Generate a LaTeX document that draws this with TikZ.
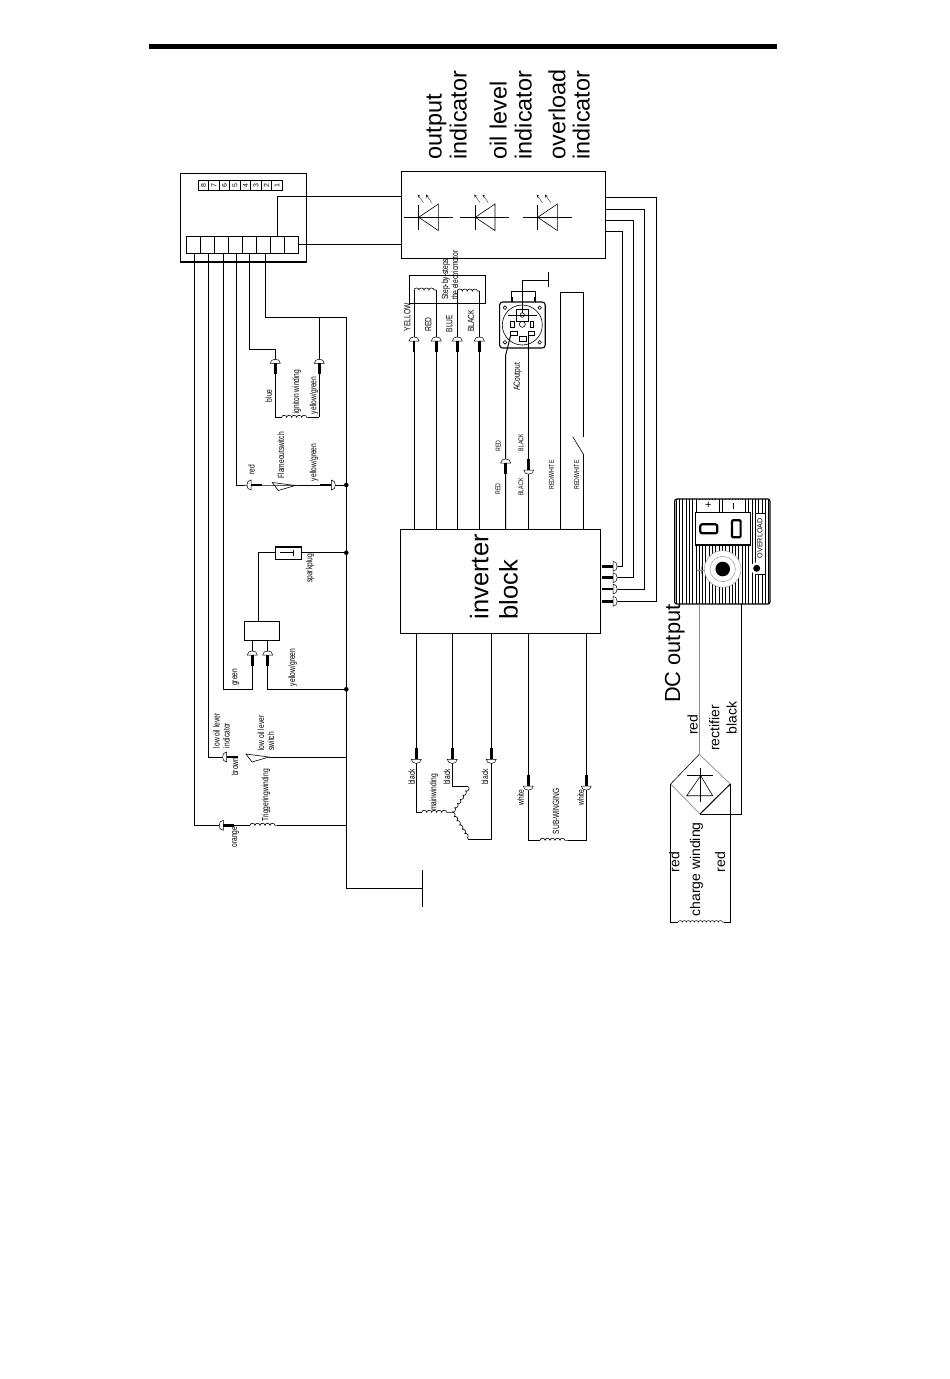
\documentclass[tikz,border=0pt]{standalone}
\usepackage{fontspec}
\usepackage{tikz}
\usetikzlibrary{decorations.pathmorphing}
\setmainfont{Liberation Sans}
\newfontfamily\narrowsans[FakeStretch=0.74]{Liberation Sans}
\newcommand{\wireFont}[0]{\narrowsans\fontsize{9}{10}\selectfont}
\newcommand{\tinyFont}[0]{\narrowsans\fontsize{7}{8}\selectfont}
\newcommand{\hugeFont}[0]{\fontsize{23.4}{26}\selectfont}
\newcommand{\midFont}[0]{\fontsize{14}{16}\selectfont}
\definecolor{wiregrey}{HTML}{8C8C8C}

\begin{document}
\begin{tikzpicture}[x=1pt, y=-1pt]
  \tikzset{
    wire/.style={line width=1pt},
    thinwire/.style={line width=0.6pt},
    greywire/.style={line width=0.9pt, draw=wiregrey},
    coilwire/.style={line width=0.6pt, decorate, decoration={bumps, segment length=10pt, amplitude=2pt}},
    box/.style={draw, line width=1.1pt, inner sep=0pt, outer sep=0pt},
    cell/.style={draw, line width=0.9pt, inner sep=0pt, outer sep=0pt},
    wirelabel/.style={rotate=90, inner sep=0pt, font=\wireFont},
    tinylabel/.style={rotate=90, inner sep=0pt, font=\tinyFont},
    hugelabel/.style={rotate=90, inner sep=0pt, anchor=base west, font=\hugeFont},
    midlabel/.style={rotate=90, inner sep=0pt, anchor=base west, font=\midFont},
    dot/.style={circle, fill, inner sep=0pt, minimum size=4.6pt},
    plug/.pic={
      \draw[line width=2.6pt] (0,0) -- (0,11);
      \draw[line width=0.5pt, fill=white] (-5,0) .. controls (-5,-5.5) and (5,-5.5) .. (5,0) -- cycle;
    },
    switchtri/.pic={
      \draw[line width=0.6pt] (0,-3) -- (6,5) -- (23,0) -- cycle;
    },
    led/.pic={
      \draw[line width=0.7pt] (-15,0) -- (34,0);
      \draw[line width=0.7pt] (0,-12.3) -- (0,12.7);
      \draw[line width=0.6pt] (0,0) -- (19.7,-13.3) -- (19.7,13.3) -- cycle;
      \draw[line width=0.3pt, ->, >=stealth] (4.7,-14.7) -- (-1,-22.7);
      \draw[line width=0.3pt, ->, >=stealth] (13,-14.7) -- (7.3,-22.7);
    }
  }
  \useasboundingbox (0,0) rectangle (950,1379);

  \coordinate (R-a) at (149.3,46.7);
  \coordinate (R-b) at (777,46.7);
  \draw[line width=4.5pt] (R-a) -- (R-b);

  \node[box, anchor=north west, minimum width=126.4pt, minimum height=88.7pt] (ctrl-box) at (180.3,173.3) {};
  \foreach \n [evaluate=\n as \px using 198.3+(8-\n)*10.5+5.25] in {8,7,...,1} {
    \node[cell, rotate=90, minimum width=10.7pt, minimum height=10.5pt, font=\fontsize{7}{8}\selectfont] (N-\n) at (\px,185.3) {\n};
  }
  \foreach \n [evaluate=\n as \px using 186.7+(8-\n)*14+7] in {8,7,...,1} {
    \node[cell, minimum width=14pt, minimum height=17pt] (T-\n) at (\px,244.8) {};
  }

  \node[box, anchor=north west, minimum width=204.4pt, minimum height=86.6pt] (led-box) at (401.3,171.7) {};
  \pic at (418.7,217.3) {led};
  \pic at (475.3,217.3) {led};
  \pic at (537.7,217.3) {led};

  \node[box, anchor=north west, minimum width=200.4pt, minimum height=104pt] (inverter) at (400.3,529.3) {};
  \node[box, anchor=north west, minimum width=76pt, minimum height=27.6pt] (motor-box) at (409.3,275.7) {};

  \foreach \dname/\dy in {1/485,2/552.7,3/689.3} {
    \node[dot] (G-\dname) at (346.3,\dy) {};
  }
  \coordinate (G-top) at (346.3,317.3);
  \coordinate (G-bot) at (346.3,888.3);
  \coordinate (E-a) at (422.5,870);
  \coordinate (E-b) at (422.5,906.7);
  \draw[wire] (G-top) -- (G-bot) -- (G-bot -| E-a);
  \draw[wire] (E-a) -- (E-b);

  % ignition side
  \coordinate (C-ign-a) at (281.7,417.3);
  \coordinate (C-ign-b) at (308,417.3);
  \coordinate (W-ign-a) at (275.3,417.3);
  \coordinate (W-ign-b) at (319.3,417.3);
  \coordinate (P-ign-a) at (275.3,363.3);
  \coordinate (P-ign-b) at (319.3,363.3);
  \coordinate (A-ign) at (275.3,349.3);
  \draw[wire] ([xshift=2pt]T-3.south) |- (G-top);
  \draw[wire] (W-ign-b) -- (W-ign-b |- G-top);
  \draw[wire] (T-4.south) |- (A-ign) -- (W-ign-a) -- (C-ign-a);
  \draw[wire] (C-ign-b) -- (W-ign-b);
  \draw[coilwire] (C-ign-a) -- (C-ign-b);

  \coordinate (P-flame-a) at (251,485);
  \coordinate (P-flame-b) at (331.3,485);
  \draw[wire] ([xshift=1pt]T-5.south) |- (P-flame-a) -- (G-1);

  \coordinate (plug-in) at (258.3,621.3);
  \node[box, anchor=north west, minimum width=26.4pt, minimum height=12.3pt] (spark-box) at (275.3,547) {};
  \node[box, anchor=north west, minimum width=35.4pt, minimum height=19pt, fill=white] (coil-box) at (244.3,621.3) {};
  \coordinate (S-a) at (280,552.7);
  \coordinate (S-b) at (293,552.7);
  \draw[line width=0.6pt] (S-a) -- (S-b);
  \draw[line width=0.5pt] (S-b) ++(0,-3) -- ++(0,6);
  \draw[wire] (spark-box.east |- G-2) -- (G-2);
  \draw[wire] (spark-box.west |- G-2) -| (plug-in);

  \coordinate (P-mag-a) at (252.3,655);
  \coordinate (P-mag-b) at (267.7,655);
  \draw[wire] (P-mag-a |- coil-box.south) -- (P-mag-a |- G-3) -| ([xshift=1.5pt]T-6.south);
  \draw[wire] (P-mag-b |- coil-box.south) |- (G-3);

  \coordinate (P-oil) at (226.7,757);
  \coordinate (Q-oil) at (269,757);
  \draw[wire] ([xshift=1pt]T-7.south) |- (P-oil);
  \draw[wire] (Q-oil) -- (Q-oil -| G-top);

  \coordinate (P-trig) at (223.3,825.3);
  \coordinate (C-trig-a) at (250,825.3);
  \coordinate (C-trig-b) at (276.7,825.3);
  \draw[wire] ([xshift=1pt]T-8.south) |- (P-trig) -- (C-trig-a);
  \draw[coilwire] (C-trig-a) -- (C-trig-b);
  \draw[wire] (C-trig-b) -- (C-trig-b -| G-top);

  \coordinate (L-a) at (605.7,197);
  \coordinate (L-b) at (605.7,209);
  \coordinate (L-c) at (605.7,220.3);
  \coordinate (L-d) at (605.7,231.3);
  \coordinate (K-a) at (656.7,601.3);
  \coordinate (K-b) at (644.7,589);
  \coordinate (K-c) at (633.7,577.7);
  \coordinate (K-d) at (622.3,566.3);
  \coordinate (P-inv-a) at (613,601.3);
  \coordinate (P-inv-b) at (613,589);
  \coordinate (P-inv-c) at (613,577.7);
  \coordinate (P-inv-d) at (613,566.3);
  \foreach \w in {a,b,c,d} {
    \draw[wire] (L-\w) -| (K-\w) -- (P-inv-\w);
  }
  \coordinate (L-in-a) at (401.3,196);
  \coordinate (L-in-b) at (401.3,245.3);
  \draw[wire] (T-2.north) |- (L-in-a);
  \draw[wire] (T-1.east) -- (T-1.east -| L-in-b);

  % stepping motor
  \coordinate (M-a) at (414,290);
  \coordinate (M-b) at (436.3,290);
  \coordinate (M-c) at (457.3,291);
  \coordinate (M-d) at (479.3,291);
  \foreach \w in {a,b,c,d} {
    \draw[wire] (inverter.north -| M-\w) -- (M-\w);
  }
  \draw[coilwire] (M-a) -- (M-b);
  \draw[coilwire] (M-c) -- (M-d);
  \coordinate (P-yellow) at (414,341);
  \coordinate (P-red) at (436.3,341);
  \coordinate (P-blue) at (457.3,341);
  \coordinate (P-black) at (479.3,341);

  % ac outlet
  \node[box, anchor=north west, rounded corners=3pt, minimum width=45.6pt, minimum height=46pt] (outlet) at (499.6,302) {};
  \node[circle, draw, line width=0.6pt, inner sep=0pt, minimum size=40pt] (outlet-ring) at (522.3,325) {};
  \node[circle, draw, line width=0.6pt, inner sep=0pt, minimum size=3.6pt] (hole-a) at (505,307.7) {};
  \node[circle, draw, line width=0.6pt, inner sep=0pt, minimum size=3.6pt] (hole-b) at (539.7,307.7) {};
  \node[circle, draw, line width=0.6pt, inner sep=0pt, minimum size=3.6pt] (hole-c) at (505,342.3) {};
  \node[circle, draw, line width=0.6pt, inner sep=0pt, minimum size=3.6pt] (hole-d) at (539.7,342.3) {};
  \node[circle, draw, line width=0.6pt, inner sep=0pt, minimum size=6pt] (hole-e) at (522.3,324.3) {};
  \node[circle, draw, line width=0.6pt, inner sep=0pt, minimum size=4.4pt] (hole-f) at (522.3,315) {};
  \node[draw, line width=0.6pt, inner sep=0pt, minimum width=3.4pt, minimum height=6pt] (slot-a) at (512.3,324) {};
  \node[draw, line width=0.6pt, inner sep=0pt, minimum width=3.4pt, minimum height=6pt] (slot-b) at (532,324) {};
  \node[draw, line width=0.9pt, inner sep=0pt, minimum width=6.6pt, minimum height=4.4pt] (blade-a) at (514.2,333.4) {};
  \node[draw, line width=0.9pt, inner sep=0pt, minimum width=6.6pt, minimum height=4.4pt] (blade-b) at (531.6,333.4) {};
  \node[draw, line width=0.9pt, inner sep=0pt, minimum width=7.6pt, minimum height=4.2pt] (blade-c) at (522.8,339) {};
  \draw[line width=0.6pt] (hole-f.north) ++(-6,-3.4) rectangle ++(12,12.4);
  \coordinate (O-a) at (508.3,315);
  \coordinate (O-b) at (536.7,315);
  \draw[line width=1pt] (O-a) -- (O-b);
  \coordinate (B-a) at (511.7,302);
  \coordinate (B-b) at (511.7,291.7);
  \coordinate (B-c) at (535,291.7);
  \coordinate (B-d) at (535,302);
  \draw[wire] (B-a) -- (B-b) -- (B-c) -- (B-d);
  \draw[line width=1.8pt] (B-a) -- ++(0,-5);
  \draw[line width=1.8pt] (B-d) -- ++(0,-5);
  \coordinate (E-c) at (548.3,271.7);
  \coordinate (E-d) at (548.3,286.7);
  \coordinate (E-e) at (548.3,280);
  \draw[wire] (E-c) -- (E-d);
  \draw[thinwire] (E-e) -| (hole-f.north);
  \coordinate (Z-a) at (505.7,355);
  \draw[wire] (inverter.north -| Z-a) -- (Z-a) -- (blade-a.south west);
  \coordinate (Z-b) at (528.7,335.6);
  \draw[wire] (inverter.north -| Z-b) -- (Z-b);
  \coordinate (P-ac-a) at (505.7,463);
  \coordinate (P-ac-b) at (528.7,470);

  \coordinate (Y-a) at (560.7,292.3);
  \coordinate (Y-b) at (583.3,292.3);
  \coordinate (Y-c) at (583.3,436.7);
  \coordinate (Y-d) at (572.7,436.7);
  \coordinate (Y-e) at (583.3,454);
  \draw[wire] (inverter.north -| Y-a) -- (Y-a) -- (Y-b) -- (Y-c);
  \draw[thinwire] (Y-d) -- (Y-e);
  \draw[wire] (Y-e) -- (inverter.north -| Y-e);

  % windings below the inverter
  \coordinate (W-star) at (451.7,812.3);
  \coordinate (W-a) at (416.3,812.3);
  \coordinate (W-b) at (421.7,812.3);
  \coordinate (W-c) at (452.3,786.7);
  \coordinate (W-d) at (468.3,786.7);
  \coordinate (W-e) at (468.3,839.3);
  \coordinate (W-f) at (491.3,839.3);
  \draw[wire] (inverter.south -| W-a) -- (W-a) -- (W-b);
  \draw[wire] (inverter.south -| W-c) -- (W-c) -- (W-d);
  \draw[wire] (inverter.south -| W-f) -- (W-f) -- (W-e);
  \draw[coilwire] (W-b) -- (W-star);
  \draw[coilwire] (W-d) -- (W-star);
  \draw[coilwire] (W-star) -- (W-e);
  \coordinate (P-main-a) at (416.3,759.3);
  \coordinate (P-main-b) at (452.3,759.3);
  \coordinate (P-main-c) at (491.3,759.3);

  \coordinate (U-a) at (528.3,840.3);
  \coordinate (U-b) at (540,840.3);
  \coordinate (U-c) at (568.3,840.3);
  \coordinate (U-d) at (586.3,840.3);
  \draw[wire] (inverter.south -| U-a) -- (U-a) -- (U-b);
  \draw[wire] (inverter.south -| U-d) -- (U-d) -- (U-c);
  \draw[coilwire] (U-b) -- (U-c);
  \coordinate (P-sub-a) at (528.3,786);
  \coordinate (P-sub-b) at (586.3,786);

  \foreach \pname/\rot in {ign-a/0,ign-b/0,flame-a/90,flame-b/-90,mag-a/0,mag-b/0,oil/90,trig/90,inv-a/-90,inv-b/-90,inv-c/-90,inv-d/-90,yellow/0,red/0,blue/0,black/0,ac-a/0,ac-b/180,main-a/180,main-b/180,main-c/180,sub-a/180,sub-b/180} {
    \pic[rotate=\rot] at (P-\pname) {plug};
  }
  \pic at (272.3,485.5) {switchtri};
  \pic at (246,757) {switchtri};

  % dc panel
  \foreach \hx in {676,679.3,...,769} {
    \draw[line width=0.6pt] (\hx,499) -- (\hx,604);
  }
  \node[box, anchor=north west, rounded corners=2pt, minimum width=95.3pt, minimum height=105pt] (panel) at (674.7,499) {};
  \node[fill=white, inner sep=0pt, minimum width=19pt, minimum height=12pt] (plus-box) at (706.5,506) {};
  \node[fill=white, inner sep=0pt, minimum width=21pt, minimum height=12pt] (minus-box) at (733,506) {};
  \node[inner sep=0pt, font=\fontsize{11}{12}\selectfont] (plus-sign) at (708.3,505.5) {+};
  \draw[line width=0.4pt] (minus-box.center) ++(0,-3) -- ++(0,6);
  \node[box, anchor=north west, fill=white, minimum width=55pt, minimum height=32.3pt] (window) at (695.7,512.7) {};
  \node[draw, line width=2.2pt, rounded corners=2pt, inner sep=0pt, minimum width=17pt, minimum height=9pt] (sw-off) at (708.8,528.8) {};
  \node[draw, line width=2.2pt, rounded corners=1pt, inner sep=0pt, minimum width=8.6pt, minimum height=17pt] (sw-on) at (736.3,528.8) {};
  \node[draw, line width=0.6pt, fill=white, anchor=north west, inner sep=0pt, minimum width=10pt, minimum height=61.3pt] (overload-box) at (755,512.7) {};
  \node[inner sep=0pt, rotate=90, font=\fontsize{7.2}{8}\selectfont] (overload) at (760,538.3) {OVERLOAD};
  \node[circle, fill=white, inner sep=0pt, minimum size=12pt] (lamp-ring) at (756.7,568.3) {};
  \node[circle, fill, inner sep=0pt, minimum size=7pt] (lamp) at (756.7,568.3) {};
  \draw[line width=0.5pt, draw=wiregrey] (696.7,570) -- (705,570);
  \draw[line width=0.5pt, draw=wiregrey] (701.7,566.5) -- (701.7,573.5);
  \node[circle, fill=white, draw=wiregrey, line width=0.4pt, inner sep=0pt, minimum size=36.6pt] (knob) at (722.7,569) {};
  \node[circle, draw=wiregrey, line width=0.4pt, inner sep=0pt, minimum size=25.4pt] (knob-ring) at (722.7,569) {};
  \node[circle, fill, inner sep=0pt, minimum size=14.6pt] (knob-core) at (722.7,569) {};

  % rectifier
  \coordinate (D-top) at (699.3,754.3);
  \coordinate (D-left) at (670.7,784);
  \coordinate (D-right) at (730.3,784);
  \coordinate (D-bot) at (700,814);
  \coordinate (D-black) at (741.3,814);
  \draw[greywire] (D-top |- panel.south) -- (D-top);
  \draw[wire] (D-black |- panel.south) -- (D-black) -- (D-bot);
  \draw[thinwire] (D-top) -- (D-left);
  \draw[greywire, line width=0.7pt] (D-top) -- (D-right);
  \draw[greywire, line width=0.7pt] (D-left) -- (D-bot);
  \draw[wire] (D-right) -- (D-bot);
  \coordinate (A-a) at (700.7,768.3);
  \coordinate (A-b) at (700.7,801.7);
  \coordinate (A-c) at (686.7,775.7);
  \coordinate (A-d) at (712.7,775.7);
  \coordinate (A-e) at (686.7,795.7);
  \coordinate (A-f) at (712.7,795.7);
  \coordinate (A-g) at (700.7,775.7);
  \draw[thinwire] (A-a) -- (A-b);
  \draw[thinwire] (A-c) -- (A-d);
  \draw[thinwire] (A-e) -- (A-f) -- (A-g) -- cycle;
  \coordinate (H-a) at (670.7,922);
  \coordinate (H-b) at (678.3,922);
  \coordinate (H-c) at (724,922);
  \coordinate (H-d) at (730.3,922);
  \draw[wire] (D-left) -- (H-a) -- (H-b);
  \draw[wire] (D-right) -- (H-d) -- (H-c);
  \draw[coilwire, line width=0.5pt, decoration={segment length=8pt, amplitude=1.4pt}] (H-b) -- (H-c);

  % big labels
  \node[hugelabel] (lab-out-a) at (441.7,159.5) {output};
  \node[hugelabel] (lab-out-b) at (466.7,159.5) {indicator};
  \node[hugelabel] (lab-oil-a) at (506.7,159.5) {oil level};
  \node[hugelabel] (lab-oil-b) at (531.7,159.5) {indicator};
  \node[hugelabel] (lab-over-a) at (565.3,159.5) {overload};
  \node[hugelabel] (lab-over-b) at (589.5,159.5) {indicator};
  \node[hugelabel, font=\fontsize{25.5}{28}\selectfont] (lab-inv-a) at (488.3,619.5) {inverter};
  \node[hugelabel, font=\fontsize{25.5}{28}\selectfont] (lab-inv-b) at (517.7,619.5) {block};
  \node[hugelabel, font=\fontsize{21.8}{24}\selectfont] (lab-dc) at (680,703) {DC output};
  \node[midlabel] (lab-r-a) at (697.7,735) {red};
  \node[midlabel] (lab-r-b) at (719.3,751) {rectifier};
  \node[midlabel] (lab-r-c) at (736.7,734.5) {black};
  \node[midlabel] (lab-r-d) at (679.3,872.3) {red};
  \node[midlabel] (lab-r-e) at (700,916.7) {charge winding};
  \node[midlabel] (lab-r-f) at (725,872.3) {red};

  % wire labels
  \node[wirelabel] (lab-blue) at (268.7,395.7) {blue};
  \node[wirelabel] (lab-ign) at (296.7,391.7) {igniton winding};
  \node[wirelabel] (lab-yg-a) at (314,395.3) {yellow/green};
  \node[wirelabel] (lab-red) at (251.3,470) {red};
  \node[wirelabel] (lab-flame) at (281,455.3) {Flameoutswitch};
  \node[wirelabel] (lab-yg-b) at (314,462.3) {yellow/green};
  \node[wirelabel] (lab-spark) at (310,568.3) {sparkplug};
  \node[wirelabel] (lab-yg-c) at (292.7,667.3) {yellow/green};
  \node[wirelabel] (lab-green) at (236,677.3) {green};
  \node[wirelabel, anchor=west, align=left] (lab-oil-ind) at (221.5,748.3) {low oil lever\\indicator};
  \node[wirelabel, anchor=west, align=left] (lab-oil-sw) at (265.8,750.7) {low oil lever\\switch};
  \node[wirelabel] (lab-brown) at (235,766.7) {brown};
  \node[wirelabel] (lab-trig) at (266,795.3) {Triggeringwinding};
  \node[wirelabel] (lab-orange) at (235.7,837) {orange};
  \node[wirelabel, anchor=west, align=left] (lab-step) at (449.8,300) {Step-by-steps\\the electricmotor};
  \node[wirelabel] (lab-yellow) at (407.3,317.3) {YELLOW};
  \node[wirelabel] (lab-red-b) at (428.3,324.7) {RED};
  \node[wirelabel] (lab-blue-b) at (449.3,323.7) {BLUE};
  \node[wirelabel] (lab-black-b) at (471,320.7) {BLACK};
  \node[wirelabel] (lab-ac) at (517.7,377) {ACoutput};
  \node[tinylabel] (lab-red-c) at (498.3,446) {RED};
  \node[tinylabel] (lab-black-c) at (521,442.7) {BLACK};
  \node[tinylabel] (lab-red-d) at (498,489) {RED};
  \node[tinylabel] (lab-black-d) at (521,487) {BLACK};
  \node[tinylabel] (lab-rw-a) at (551.3,475) {RED/WHITE};
  \node[tinylabel] (lab-rw-b) at (576.7,475) {RED/WHITE};
  \node[wirelabel] (lab-blk-a) at (411.7,777) {black};
  \node[wirelabel] (lab-blk-b) at (447,777) {black};
  \node[wirelabel] (lab-blk-c) at (485,777) {black};
  \node[wirelabel] (lab-main) at (434,792.3) {mainwinding};
  \node[wirelabel] (lab-wht-a) at (520.7,797.7) {white};
  \node[wirelabel] (lab-wht-b) at (580.7,797.7) {white};
  \node[wirelabel] (lab-sub) at (556,811.3) {SUB-WINGING};
\end{tikzpicture}
\end{document}
